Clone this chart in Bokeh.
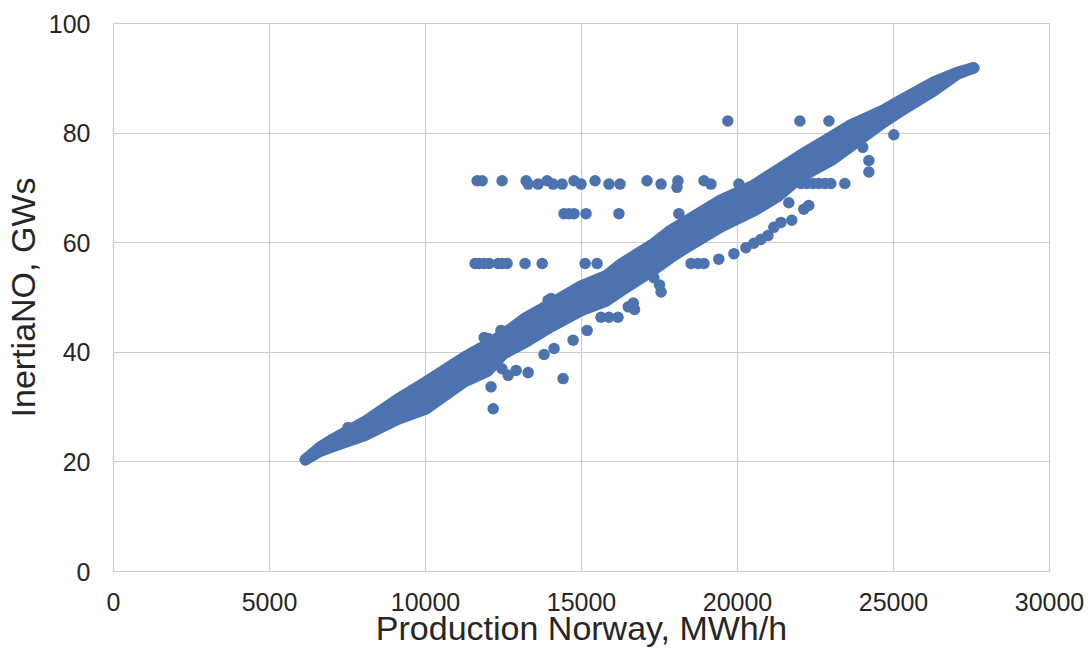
from bokeh.plotting import figure
from bokeh.models import FixedTicker
from bokeh.embed import file_html
from bokeh.resources import INLINE

# ---- tick labels ----
x_ticks = [0, 5000, 10000, 15000, 20000, 25000, 30000]
y_ticks = [0, 20, 40, 60, 80, 100]

# ---- dense main band of points (edge samples) ----
band_x = [6150, 6600, 6980, 8040, 9120, 10020, 11240, 12000, 12500, 13160, 14000,
          14985, 15800, 16265, 17300, 17870, 18190, 19470, 20525, 21290, 22030,
          23000, 23630, 24690, 25230, 26290, 27060, 27570]
band_hi = [20.4, 22.6, 24.0, 27.3, 31.5, 34.6, 39.1, 41.5, 43.3, 46.1, 48.8,
           52.1, 54.0, 56.1, 59.8, 62.3, 63.4, 67.8, 70.5, 73.3, 76.0,
           79.3, 81.5, 84.2, 86.0, 89.3, 91.1, 91.9]
band_lo = [20.4, 21.9, 22.7, 24.8, 27.8, 29.7, 34.6, 36.6, 39.7, 41.7, 44.6,
           47.6, 49.4, 51.2, 55.0, 57.3, 58.5, 62.9, 65.8, 68.4, 72.0,
           75.0, 77.6, 82.0, 84.0, 87.7, 90.8, 91.9]

# ---- individual points away from the band ----
row82_x = [19690, 22000, 22930]
row82_y = [82.2, 82.2, 82.2]

row71_x = [11655, 11815, 12455, 13225, 13290, 13610, 13900, 14090, 14380, 14760,
           14985, 15435, 15880, 16235, 17100, 17550, 18090, 18060, 18925, 19150,
           20045, 22030, 22220, 22415, 22605, 22800, 22990, 23440]
row71_y = [71.3, 71.3, 71.3, 71.3, 70.7, 70.7, 71.3, 70.7, 70.7, 71.3,
           70.7, 71.3, 70.7, 70.7, 71.3, 70.7, 71.3, 70.1, 71.3, 70.7,
           70.7, 70.8, 70.8, 70.8, 70.8, 70.8, 70.8, 70.8]

row65_x = [14440, 14600, 14760, 15145, 16200, 18120]
row65_y = [65.3, 65.3, 65.3, 65.3, 65.3, 65.3]

row56_x = [11590, 11720, 11880, 12040, 12330, 12455, 12615, 13190, 13740, 15115, 15500]
row56_y = [56.2, 56.2, 56.2, 56.2, 56.2, 56.2, 56.2, 56.2, 56.2, 56.2, 56.2]

fringe_x = [15625, 15880, 16170, 15180, 14730, 14410, 12100, 12170, 12650, 12905,
            13290, 14120, 13800, 16500, 17550, 17500, 17320, 12450,
            12010, 12420, 13930, 11880, 7520, 14025, 16660, 16700]
fringe_y = [46.4, 46.4, 46.4, 44.0, 42.2, 35.2, 33.7, 29.7, 35.8, 36.7,
            36.3, 40.7, 39.6, 48.3, 51.0, 52.3, 53.6, 37.0,
            42.5, 44.0, 49.5, 42.7, 26.3, 49.8, 49.0, 47.8]

sub_x = [18510, 18730, 18925, 19400, 19885, 20270, 20525, 20750, 20975, 21165,
         21390, 21740, 21645, 22125, 22285, 24015, 24210, 24210, 25010]
sub_y = [56.2, 56.2, 56.2, 57.0, 58.0, 59.1, 59.9, 60.6, 61.3, 62.8,
         63.7, 64.1, 67.3, 66.1, 66.8, 77.4, 75.0, 72.9, 79.7]

out_x = row82_x + row71_x + row65_x + row56_x + fringe_x + sub_x
out_y = row82_y + row71_y + row65_y + row56_y + fringe_y + sub_y

BLUE = "#4c72b0"
TXT = "#262626"
GRID = "#cccccc"
FONT = "Liberation Sans"
DOT = 11.5

p = figure(width=1088, height=649, x_range=(0, 30000), y_range=(0, 100),
           output_backend="svg", toolbar_location=None,
           min_border_left=112, min_border_right=39, min_border_top=23,
           min_border_bottom=78, background_fill_color="white",
           border_fill_color="white")

p.varea(x=band_x, y1=band_lo, y2=band_hi, fill_color=BLUE)
p.line(band_x, band_hi, line_width=DOT, line_color=BLUE, line_cap="round", line_join="round")
p.line(band_x, band_lo, line_width=DOT, line_color=BLUE, line_cap="round", line_join="round")
p.scatter(out_x, out_y, marker="circle", size=DOT, fill_color=BLUE, line_color=None)

p.xaxis.ticker = FixedTicker(ticks=x_ticks)
p.yaxis.ticker = FixedTicker(ticks=y_ticks)
p.axis.major_tick_line_color = None
p.axis.minor_tick_line_color = None
p.axis.axis_line_color = None
p.axis.major_label_text_font = FONT
p.axis.major_label_text_font_size = "25px"
p.axis.major_label_text_color = TXT
p.xaxis.major_label_standoff = 15
p.yaxis.major_label_standoff = 17

p.xaxis.axis_label = "Production Norway, MWh/h"
p.yaxis.axis_label = "InertiaNO, GWs"
p.axis.axis_label_text_font = FONT
p.axis.axis_label_text_font_size = "34px"
p.axis.axis_label_text_font_style = "normal"
p.axis.axis_label_text_color = TXT
p.yaxis.axis_label_standoff = 4
p.xaxis.axis_label_standoff = -5

p.grid.grid_line_color = GRID
p.grid.grid_line_width = 1.2
p.outline_line_color = GRID
p.outline_line_width = 1.2

open("out.html", "w").write(file_html(p, INLINE))
